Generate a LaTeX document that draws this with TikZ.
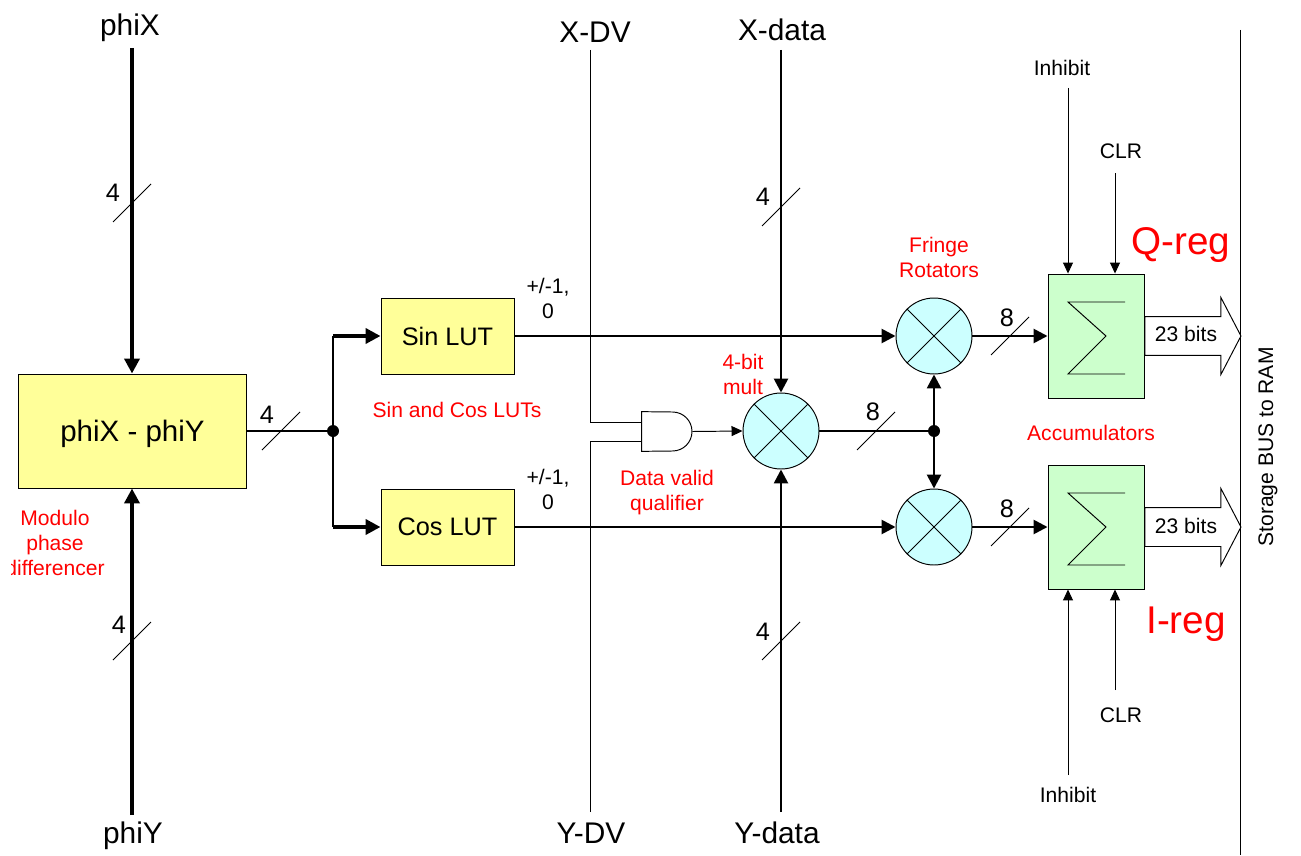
\documentclass[tikz,border=0pt]{standalone}
\usepackage{fontspec}
\setmainfont{Liberation Sans}
\usetikzlibrary{arrows.meta,shapes.arrows}
\definecolor{lutyellow}{HTML}{FFFF99}
\definecolor{mixcyan}{HTML}{CCFFFF}
\definecolor{accgreen}{HTML}{CCFFCC}
\tikzset{
  thinline/.style={line width=0.55pt, draw=black},
  sigline/.style={line width=1.5pt, -{Triangle[length=0.28cm,width=0.28cm]}},
  plainsig/.style={line width=1.5pt},
  fatline/.style={line width=2.4pt, -{Triangle[length=0.3cm,width=0.3cm]}},
  ctrl/.style={thinline, -{Triangle[length=0.22cm,width=0.2cm]}},
  lutbox/.style={draw, line width=0.55pt, fill=lutyellow, minimum width=2.66cm, minimum height=1.52cm, inner sep=0pt, font=\fontsize{14.4}{17}\selectfont},
  accbox/.style={draw, line width=0.55pt, fill=accgreen, minimum width=1.92cm, minimum height=2.48cm, inner sep=0pt},
  mixer/.style={circle, draw, line width=0.55pt, fill=mixcyan, minimum size=1.52cm, inner sep=0pt},
  junction/.style={circle, fill=black, minimum size=0.24cm, inner sep=0pt},
  bigarrow/.style={single arrow, draw, line width=0.55pt, anchor=tail, minimum height=1.92cm, text height=0.38cm, text depth=0.38cm, single arrow head extend=0.38cm, single arrow tip angle=125, inner sep=0pt},
  signame/.style={inner sep=0pt, font=\fontsize{17}{20}\selectfont},
  ctrlname/.style={inner sep=0pt, font=\fontsize{12}{14}\selectfont},
  note/.style={inner sep=0pt, text=red, align=center, font=\fontsize{12}{14.2}\selectfont},
  regname/.style={inner sep=0pt, text=red, font=\fontsize{22}{26}\selectfont},
  buswidth/.style={inner sep=0pt, font=\fontsize{14.4}{17}\selectfont},
}
\begin{document}
\begin{tikzpicture}[x=0.02cm,y=-0.02cm]
\useasboundingbox (0,0) rectangle (1301,855);

% blocks
\node[lutbox, minimum width=4.58cm, minimum height=2.28cm, text height=0.53cm, text depth=0.12cm, font=\fontsize{16.8}{20}\selectfont] (phidiff) at (132.5,431) {phiX - phiY};
\node[lutbox] (sinlut) at (447.5,336) {Sin LUT};
\node[lutbox] (coslut) at (447.5,527) {Cos LUT};
\node[mixer] (multiply) at (781,431) {};
\node[mixer] (rotq) at (934,336) {};
\node[mixer] (roti) at (934,527) {};
\node[accbox] (accq) at (1096,336) {};
\node[accbox] (acci) at (1096,527) {};
\node[minimum width=1cm, minimum height=0.78cm, inner sep=0pt] (valid) at (667,431.5) {};
\node[junction] (phijoin) at (333,431) {};
\node[junction] (multjoin) at (934,431) {};

\draw[thinline] (valid.north west) -- (672.5,412) arc[start angle=270, end angle=450, radius=19.5] -- (valid.south west) -- cycle;
\foreach \m in {multiply,rotq,roti} {
  \draw[thinline] (\m.45) -- (\m.225);
  \draw[thinline] (\m.135) -- (\m.315);
}
\foreach \a in {accq,acci} {
  \draw[thinline, shift={(\a)}] (29,-34) -- (-28,-34) -- (10,0) -- (-28,38) -- (29,38);
}

% free ends
\coordinate (phixtop) at (132,48);
\coordinate (phiybot) at (132,815);
\coordinate (xdvtop) at (590,50);
\coordinate (ydvbot) at (590,812);
\coordinate (xdatatop) at (781,50);
\coordinate (ydatabot) at (781,812);
\coordinate (inhqtop) at (1068,88);
\coordinate (clrqtop) at (1115,173);
\coordinate (inhibot) at (1068,775);
\coordinate (clribot) at (1115,690);
\coordinate (bustop) at (1240,30);
\coordinate (busbot) at (1240,855);
\coordinate (validin1) at (642,422);
\coordinate (validin2) at (642,441);

% fat inputs
\draw[fatline] (phixtop) -- (phidiff.north -| phixtop);
\draw[fatline] (phiybot) -- (phidiff.south -| phiybot);
\draw[plainsig] (phidiff.east) -- (phijoin);
\draw[plainsig] (phijoin |- sinlut) -- (phijoin |- coslut);
\draw[fatline] (phijoin |- sinlut) -- (sinlut.west);
\draw[fatline] (phijoin |- coslut) -- (coslut.west);

% signal paths
\draw[thinline] (xdvtop) |- (validin1);
\draw[thinline] (ydvbot) |- (validin2);
\draw[sigline] (sinlut.east) -- (rotq.west);
\draw[sigline] (coslut.east) -- (roti.west);
\draw[sigline] (xdatatop) -- (multiply.north);
\draw[sigline] (ydatabot) -- (multiply.south);
\draw[ctrl] (valid.east) -- (multiply.west);
\draw[plainsig] (multiply.east) -- (multjoin);
\draw[sigline] (multjoin) -- (rotq.south);
\draw[sigline] (multjoin) -- (roti.north);
\draw[sigline] (rotq.east) -- (accq.west);
\draw[sigline] (roti.east) -- (acci.west);

% accumulator controls
\draw[ctrl] (inhqtop) -- (inhqtop |- accq.north);
\draw[ctrl] (clrqtop) -- (clrqtop |- accq.north);
\draw[ctrl] (inhibot) -- (inhibot |- acci.south);
\draw[ctrl] (clribot) -- (clribot |- acci.south);

% outputs
\node[bigarrow] (outq) at (accq.east) {};
\node[bigarrow] (outi) at (acci.east) {};
\draw[thinline] (bustop) -- (busbot);

% bus width marks
\foreach \sx/\sy/\w/\wx/\wy in {132/203/4/113/193, 132/641/4/119/625, 781/207/4/763/197, 781/641/4/763/632, 281/431/4/267/415, 876/431/8/873/412, 1010/336/8/1007/318, 1010/527/8/1007/509} {
  \draw[thinline] (\sx-19,\sy+19) -- (\sx+19,\sy-19);
  \node[buswidth] (width\sx\sy) at (\wx,\wy) {\w};
}

% names
\node[signame] (namephix) at (130,27.5) {phiX};
\node[signame] (namephiy) at (133,835.5) {phiY};
\node[signame] (namexdv) at (595,32) {X-DV};
\node[signame] (nameydv) at (591,833) {Y-DV};
\node[signame] (namexdata) at (782,30) {X-data};
\node[signame] (nameydata) at (777,833) {Y-data};
\node[ctrlname] (nameinhq) at (1062,68) {Inhibit};
\node[ctrlname] (nameclrq) at (1121,151) {CLR};
\node[ctrlname] (nameinhi) at (1068,795) {Inhibit};
\node[ctrlname] (nameclri) at (1121,715) {CLR};
\node[ctrlname] (nameoutq) at (1186,334) {23 bits};
\node[ctrlname] (nameouti) at (1186,526) {23 bits};
\node[ctrlname, rotate=90] (namebus) at (1268,447) {Storage BUS to RAM};
\node[ctrlname, align=center, font=\fontsize{12}{14.2}\selectfont] (namesin) at (548,298.5) {+/-1,\\0};
\node[ctrlname, align=center, font=\fontsize{12}{14.2}\selectfont] (namecos) at (548,489.5) {+/-1,\\0};

% red notes
\node[note] (notemodulo) at (55,532.5) {Modulo\\phase};
\begin{scope}
  \clip (11,555) rectangle (120,582);
  \node[note] (notediff) at (55,568) {differencer};
\end{scope}
\node[note] (notelut) at (457,410) {Sin and Cos LUTs};
\node[note] (notemult) at (743,374) {4-bit\\mult};
\node[note] (notevalid) at (667,492.5) {Data valid\\qualifier};
\node[note] (notefringe) at (939,257) {Fringe\\Rotators};
\node[note] (noteacc) at (1091,433) {Accumulators};
\node[regname] (regq) at (1181,245) {Q-reg};
\node[regname] (regi) at (1186,624) {I-reg};
\end{tikzpicture}
\end{document}
